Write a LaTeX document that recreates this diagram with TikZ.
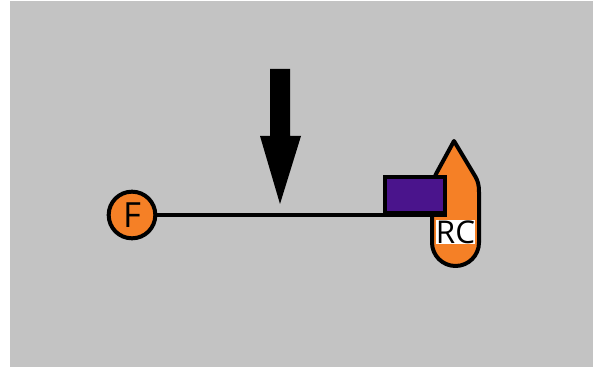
\documentclass[tikz,border=0pt]{standalone}
\usepackage{fontspec}
\setmainfont{Open Sans}
\definecolor{bggray}{HTML}{C3C3C3}
\definecolor{droporange}{HTML}{F58026}
\definecolor{boxpurple}{HTML}{4A148C}
\tikzset{
    ball/.style={circle, draw=black, line width=3pt, fill=droporange, minimum size=35pt, inner sep=0pt, font=\fontsize{26}{26}\selectfont},
    tag/.style={fill=white, inner sep=0pt, minimum width=26pt, minimum height=18.5pt, font=\fontsize{23.5}{24}\selectfont},
    slab/.style={draw=black, line width=3.2pt, fill=boxpurple, minimum width=45pt, minimum height=27pt, inner sep=0pt},
}
\begin{document}
\begin{tikzpicture}[x=.75pt, y=-.75pt]
\useasboundingbox (0,0) rectangle (593,370);
\fill[white] (0,0) rectangle (593,370);
\fill[bggray] (10,1) rectangle (593,367);

% drop
\draw[line width=3pt, fill=droporange, line join=round]
    (454,141) -- (475,176) .. controls (478,181) and (479,185) .. (479,192) -- (479,242.5)
    arc (0:180:23.5 and 23.5) -- (432,192) .. controls (432,185) and (433,181) .. (436,174) -- cycle;
\node[tag] (rc) at (455.5,232) {RC};

% beam
\node[ball] (f) at (132,215) {F};
\node[slab] (box) at (415,195) {};
\draw[line width=3pt] (f) -- (f -| box.east);

% arrow
\fill[black] (270,69) -- (290,69) -- (290,136) -- (301,136) -- (280,204) -- (260,136) -- (270,136) -- cycle;
\end{tikzpicture}
\end{document}
